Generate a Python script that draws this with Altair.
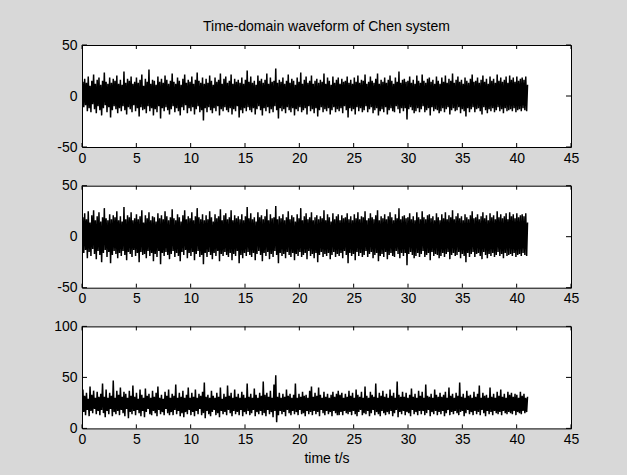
import altair as alt
import numpy as np
import pandas as pd

FONT = "Liberation Sans"

t_end = 41.0

x_vals = [
    0, 14, -11, 17, -9, 13, -15, 19, -12, 10, -16, 15, -8, 21, -13, 12, -17, 16, -10, 18,
    -14, 11, -19, 15, -12, 23, -9, 14, -16, 12, -11, 18, -21, 13, -14, 17, -10, 15, -13, 20,
    -17, 12, -12, 16, -15, 11, -10, 24, -14, 13, -18, 17, -11, 15, -13, 19, -16, 12, -9, 14,
    -15, 18, -12, 13, -20, 16, -11, 21, -14, 10, -13, 17, -17, 14, -10, 26, -15, 12, -12, 16,
    -19, 15, -13, 11, -16, 19, -10, 14, -22, 17, -12, 13, -15, 20, -11, 16, -14, 12, -18, 15,
    -13, 22, -10, 14, -16, 12, -12, 18, -15, 15, -19, 11, -11, 17, -14, 21, -9, 13, -17, 16,
    -12, 14, -15, 19, -11, 12, -18, 16, -13, 23, -10, 15, -16, 13, -14, 18, -24, 12, -12, 17,
    -16, 13, -11, 20, -14, 15, -17, 11, -12, 18, -15, 14, -10, 16, -19, 22, -13, 12, -15, 17,
    -11, 19, -14, 13, -16, 15, -12, 21, -18, 12, -13, 17, -15, 14, -10, 16, -21, 13, -14, 18,
    -17, 12, -12, 16, -15, 25, -11, 14, -14, 19, -16, 13, -12, 15, -18, 11, -13, 20, -10, 15,
    -14, 17, -19, 13, -12, 16, -15, 22, -11, 12, -17, 18, -13, 14, -16, 15, -10, 27, -14, 13,
    -22, 16, -12, 14, -15, 18, -13, 12, -17, 15, -11, 21, -14, 13, -16, 17, -12, 15, -19, 11,
    -13, 18, -15, 14, -11, 23, -16, 12, -14, 16, -12, 19, -18, 13, -10, 15, -15, 20, -13, 12,
    -17, 15, -12, 17, -20, 13, -14, 16, -11, 14, -16, 22, -13, 12, -15, 18, -12, 15, -18, 11,
    -14, 19, -11, 13, -16, 16, -13, 18, -15, 12, -12, 17, -17, 14, -10, 15, -14, 19, -21, 13,
    -12, 16, -15, 12, -13, 18, -18, 14, -11, 20, -15, 13, -12, 16, -16, 15, -14, 21, -10, 12,
    -16, 14, -13, 19, -11, 15, -17, 13, -14, 17, -12, 22, -19, 12, -15, 16, -13, 14, -16, 18,
    -11, 13, -18, 16, -14, 20, -12, 15, -15, 12, -16, 18, -10, 14, -13, 24, -17, 13, -12, 16,
    -15, 17, -12, 14, -23, 15, -13, 19, -11, 13, -14, 16, -17, 12, -15, 20, -12, 15, -16, 13,
    -13, 21, -10, 15, -16, 13, -14, 17, -12, 18, -19, 14, -11, 16, -15, 12, -13, 19, -14, 15,
    -17, 12, -15, 18, -12, 14, -16, 20, -13, 13, -11, 17, -18, 15, -14, 22, -12, 13, -15, 16,
    -14, 19, -11, 14, -17, 16, -13, 12, -15, 18, -20, 15, -12, 13, -16, 17, -13, 21, -11, 14,
    -16, 15, -13, 18, -12, 13, -15, 16, -18, 20, -11, 14, -14, 17, -17, 12, -13, 19, -15, 15,
    -12, 17, -16, 13, -14, 21, -11, 15, -15, 18, -13, 14, -17, 16, -12, 19, -15, 13, -14, 20,
    -13, 16, -15, 18, -12, 14, -16, 19, -14, 15, -13, 17, -15, 18, -12, 16, -14, 19, -15, 11,
]

y_vals = [
    0, 19, -16, 23, -13, 17, -21, 25, -15, 14, -19, 21, -12, 26, -17, 16, -22, 20, -14, 24,
    -18, 15, -25, 19, -16, 28, -13, 18, -20, 16, -15, 22, -26, 17, -18, 21, -14, 19, -17, 25,
    -21, 16, -16, 20, -19, 15, -14, 29, -18, 17, -23, 21, -15, 19, -17, 24, -20, 16, -13, 18,
    -19, 22, -16, 17, -25, 20, -15, 26, -18, 14, -17, 21, -21, 18, -14, 24, -19, 16, -16, 20,
    -24, 19, -17, 15, -20, 23, -14, 18, -27, 21, -16, 17, -19, 25, -15, 20, -18, 16, -22, 19,
    -17, 27, -14, 18, -20, 16, -16, 22, -19, 19, -24, 15, -15, 21, -18, 26, -13, 17, -21, 20,
    -16, 18, -19, 24, -15, 16, -23, 20, -17, 28, -14, 19, -20, 17, -18, 22, -27, 16, -16, 21,
    -20, 17, -15, 25, -18, 19, -22, 15, -16, 22, -19, 18, -14, 20, -24, 27, -17, 16, -19, 21,
    -15, 23, -18, 17, -20, 19, -16, 26, -23, 16, -17, 21, -19, 18, -14, 20, -26, 17, -18, 22,
    -21, 16, -16, 20, -19, 29, -15, 18, -18, 23, -20, 17, -16, 19, -23, 15, -17, 24, -14, 19,
    -18, 21, -24, 17, -16, 20, -19, 27, -15, 16, -22, 22, -17, 18, -20, 19, -14, 30, -18, 17,
    -26, 20, -16, 18, -19, 22, -17, 16, -21, 19, -15, 25, -18, 17, -20, 21, -16, 19, -23, 15,
    -17, 22, -19, 18, -15, 28, -20, 16, -18, 20, -16, 23, -22, 17, -14, 19, -19, 24, -17, 16,
    -21, 19, -16, 21, -25, 17, -18, 20, -15, 18, -20, 26, -17, 16, -19, 22, -16, 19, -22, 15,
    -18, 23, -15, 17, -20, 20, -17, 22, -19, 16, -16, 21, -21, 18, -14, 19, -18, 23, -26, 17,
    -16, 20, -19, 16, -17, 22, -23, 18, -15, 24, -19, 17, -16, 20, -20, 19, -18, 25, -14, 16,
    -20, 18, -17, 23, -15, 19, -21, 17, -18, 21, -16, 26, -24, 16, -19, 20, -17, 18, -20, 22,
    -15, 17, -22, 20, -18, 24, -16, 19, -19, 16, -20, 22, -14, 18, -17, 28, -21, 17, -16, 20,
    -19, 21, -16, 18, -28, 19, -17, 23, -15, 17, -18, 20, -21, 16, -19, 24, -16, 19, -20, 17,
    -17, 25, -14, 19, -20, 17, -18, 21, -16, 22, -23, 18, -15, 20, -19, 16, -17, 23, -18, 19,
    -21, 16, -19, 22, -16, 18, -20, 24, -17, 17, -15, 21, -22, 19, -18, 26, -16, 17, -19, 20,
    -18, 23, -15, 18, -21, 20, -17, 16, -19, 22, -25, 19, -16, 17, -20, 21, -17, 25, -15, 18,
    -20, 19, -17, 22, -16, 17, -19, 20, -22, 24, -15, 18, -18, 21, -21, 16, -17, 23, -19, 19,
    -16, 21, -20, 17, -18, 25, -15, 19, -19, 22, -17, 18, -21, 20, -16, 23, -19, 17, -18, 24,
    -17, 20, -19, 22, -16, 18, -20, 23, -18, 19, -17, 21, -19, 22, -16, 20, -18, 23, -19, 14,
]

z_vals = [
    25, 38, 16, 32, 13, 35, 18, 29, 12, 41, 17, 33, 15, 37, 19, 30, 14, 36, 17, 31,
    13, 34, 18, 44, 15, 31, 11, 38, 17, 30, 14, 35, 19, 32, 12, 47, 16, 30, 14, 37,
    17, 33, 13, 40, 18, 31, 15, 36, 12, 34, 19, 30, 10, 37, 16, 32, 14, 42, 17, 31,
    13, 35, 18, 29, 15, 38, 12, 33, 17, 30, 11, 39, 16, 32, 19, 34, 14, 30, 13, 37,
    17, 31, 15, 35, 12, 41, 18, 30, 14, 33, 16, 29, 13, 36, 19, 32, 15, 38, 13, 30,
    16, 34, 13, 32, 18, 43, 14, 30, 17, 35, 12, 31, 15, 37, 11, 30, 16, 33, 14, 40,
    18, 30, 13, 35, 16, 31, 12, 38, 17, 30, 14, 34, 19, 32, 13, 36, 15, 45, 10, 31,
    17, 33, 14, 30, 12, 37, 16, 32, 18, 30, 13, 35, 15, 31, 11, 40, 17, 29, 14, 34,
    16, 31, 13, 42, 18, 32, 15, 35, 12, 30, 17, 38, 14, 31, 16, 34, 13, 30, 18, 36,
    12, 33, 16, 30, 14, 44, 17, 31, 13, 34, 15, 30, 18, 39, 12, 33, 16, 30, 14, 35,
    17, 32, 13, 46, 15, 33, 12, 35, 18, 31, 14, 37, 16, 30, 11, 43, 17, 52, 6, 31,
    13, 35, 17, 30, 14, 34, 16, 31, 12, 38, 18, 32, 15, 34, 13, 30, 17, 33, 14, 44,
    16, 30, 13, 34, 18, 31, 14, 36, 15, 32, 12, 33, 17, 30, 14, 37, 16, 41, 13, 31,
    17, 35, 14, 32, 16, 40, 12, 33, 18, 30, 15, 36, 13, 31, 17, 34, 14, 30, 16, 33,
    12, 36, 17, 31, 15, 34, 13, 37, 13, 33, 16, 35, 13, 30, 17, 34, 15, 31, 14, 37,
    16, 32, 13, 35, 17, 30, 14, 38, 12, 33, 16, 31, 18, 36, 13, 30, 15, 41, 14, 32,
    17, 30, 12, 36, 15, 33, 18, 31, 13, 44, 16, 30, 14, 35, 12, 32, 17, 37, 15, 31,
    13, 34, 16, 30, 14, 38, 17, 32, 12, 35, 15, 30, 18, 46, 11, 33, 16, 31, 14, 36,
    17, 31, 13, 35, 16, 30, 15, 33, 12, 39, 18, 31, 14, 34, 16, 30, 13, 37, 17, 32,
    14, 36, 17, 30, 13, 43, 15, 32, 18, 31, 12, 34, 16, 30, 14, 38, 17, 33, 13, 31,
    16, 35, 14, 31, 17, 33, 12, 36, 15, 30, 18, 40, 13, 32, 16, 34, 14, 30, 17, 35,
    15, 32, 13, 45, 16, 31, 17, 34, 12, 30, 15, 37, 18, 32, 14, 33, 16, 30, 13, 36,
    17, 31, 14, 34, 16, 42, 13, 30, 18, 35, 15, 32, 12, 33, 17, 30, 14, 40, 16, 31,
    13, 34, 17, 30, 15, 36, 14, 32, 16, 38, 13, 31, 17, 34, 15, 30, 14, 36, 16, 33,
    15, 35, 14, 31, 17, 34, 13, 33, 16, 30, 15, 36, 14, 32, 17, 34, 15, 30, 16, 31,
]

x_ticks = [0, 5, 10, 15, 20, 25, 30, 35, 40, 45]
y_ticks_xy = [-50, 0, 50]
y_ticks_z = [0, 50, 100]

W, H = 489, 102
XT = 4   # inward tick length (x)
YT = 5   # inward tick length (y)
LABEL_EXPR = "'' + datum.value"   # plain hyphen-minus, as in the original


def panel(vals, ydomain, yticks, title_text=None, xtitle=None):
    df = pd.DataFrame({"t": np.linspace(0, t_end, len(vals)), "v": vals})
    xs = alt.Scale(domain=[0, 45], nice=False, zero=False)
    ys = alt.Scale(domain=ydomain, nice=False, zero=False)
    xaxis_kw = dict(values=x_ticks, ticks=False, tickSize=0, domain=False, grid=False,
                    labelPadding=4, labelFontSize=14, labelFont=FONT, labelColor="black",
                    labelFlush=False, labelOverlap=False, labelExpr=LABEL_EXPR)
    if xtitle:
        xaxis_kw.update(title=xtitle, titleFont=FONT, titleFontSize=14,
                        titleFontWeight="normal", titleColor="black", titlePadding=5)
    else:
        xaxis_kw.update(title="")
    xa = alt.Axis(**xaxis_kw)
    ya = alt.Axis(values=yticks, ticks=False, tickSize=0, domain=False, grid=False,
                  labelPadding=5, labelFontSize=14, labelFont=FONT, title="",
                  labelColor="black", labelFlush=False, labelOverlap=False,
                  labelExpr=LABEL_EXPR)
    X = lambda: alt.X("t:Q", scale=xs, axis=xa)
    Y = lambda: alt.Y("v:Q", scale=ys, axis=ya)

    line = alt.Chart(df).mark_line(color="black", strokeWidth=1.5, clip=True).encode(
        x=X(), y=Y())
    xt = pd.DataFrame({"t": x_ticks})
    yt = pd.DataFrame({"v": yticks})
    tick_top = alt.Chart(xt).mark_rule(color="black", strokeWidth=1).encode(
        x=X(), y=alt.value(0), y2=alt.value(XT))
    tick_bot = alt.Chart(xt).mark_rule(color="black", strokeWidth=1).encode(
        x=X(), y=alt.value(H - XT), y2=alt.value(H))
    tick_left = alt.Chart(yt).mark_rule(color="black", strokeWidth=1).encode(
        y=Y(), x=alt.value(0), x2=alt.value(YT))
    tick_right = alt.Chart(yt).mark_rule(color="black", strokeWidth=1).encode(
        y=Y(), x=alt.value(W - YT), x2=alt.value(W))
    props = dict(width=W, height=H)
    if title_text:
        props["title"] = alt.TitleParams(text=title_text, font=FONT, fontSize=14,
                                         fontWeight="normal", color="black",
                                         anchor="middle", offset=4)
    return alt.layer(line, tick_top, tick_bot, tick_left, tick_right).properties(**props)


p1 = panel(x_vals, [-50, 50], y_ticks_xy, title_text="Time-domain waveform of Chen system")
p2 = panel(y_vals, [-50, 50], y_ticks_xy)
p3 = panel(z_vals, [0, 100], y_ticks_z, xtitle="time t/s")

chart = alt.vconcat(p1, p2, p3, spacing=38.7, bounds="flush").properties(
    padding={"left": 53, "top": 19, "right": 47, "bottom": 10},
).configure(background="#d8d8d8").configure_view(
    stroke="black", strokeWidth=1, fill="white"
)

chart.save("out.html", embed_options={"renderer": "svg", "actions": False})
